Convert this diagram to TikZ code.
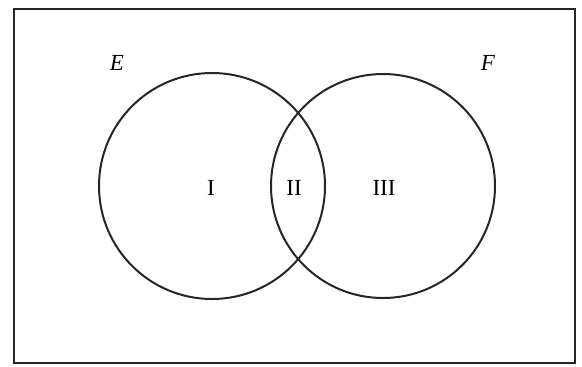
\documentclass[tikz,border=0pt]{standalone}
\usepackage{fontspec}
\setmainfont{Liberation Serif}
\begin{document}
\begin{tikzpicture}[x=0.5pt,y=-0.5pt,
  setline/.style={line width=1pt, draw=black!85},
  lbl/.style={font=\fontsize{11.5}{14}\selectfont, inner sep=0pt}]
\useasboundingbox (0,0) rectangle (582,366);
\draw[setline, line width=1.1pt] (14,9) rectangle (575,363);
\node[setline, circle, minimum size=113pt, inner sep=0pt] (E) at (212,186) {};
\node[setline, circle, minimum size=112pt, inner sep=0pt] (F) at (383,186) {};
\node[lbl] (lE) at (117,63) {\itshape E};
\node[lbl] (lF) at (488,63) {\itshape F};
\node[lbl] (r1) at (211,188) {I};
\node[lbl] (r2) at (294,188) {II};
\node[lbl] (r3) at (384,188) {III};
\end{tikzpicture}
\end{document}
